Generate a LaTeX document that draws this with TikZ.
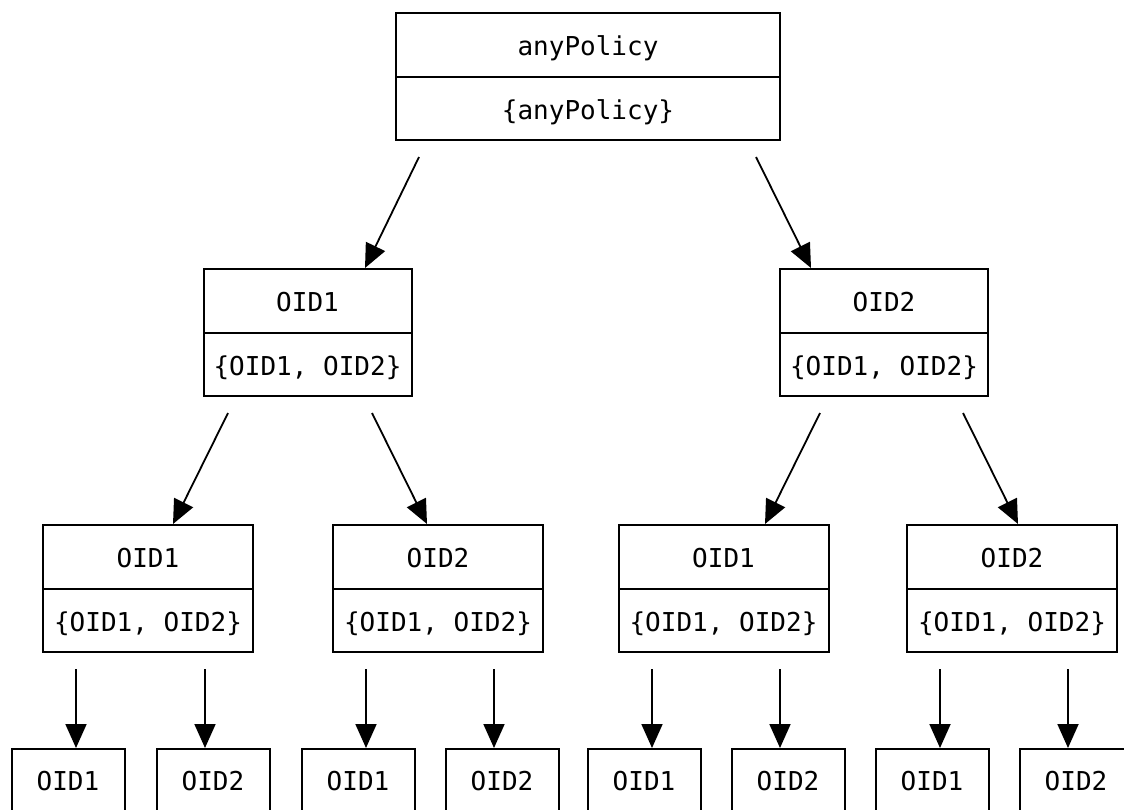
\documentclass[tikz,border=0pt]{standalone}
\usepackage{fontspec}
\setmonofont{DejaVu Sans Mono}
\usetikzlibrary{arrows.meta,shapes.multipart,calc}
\newcommand\rw[1]{\spaceskip=0pt\xspaceskip=0pt\rule[-20pt]{0pt}{61.5pt}#1}

\begin{document}
\begin{tikzpicture}[x=1pt,y=1pt,
        pol/.style={draw,line width=2pt,rectangle split,rectangle split parts=2,inner sep=0pt,align=center,anchor=north,font=\ttfamily\fontsize{26}{30}\selectfont},
        leaf/.style={draw,line width=2pt,inner sep=0pt,text width=113,align=center,anchor=north,font=\ttfamily\fontsize{26}{30}\selectfont},
        arr/.style={line width=1.8pt,-{Triangle[length=24pt,width=21pt]}}]
    \useasboundingbox (0,0) rectangle (1124,-809);
    \clip (0,0) rectangle (1124,-809);
    \node[pol,text width=384] (root) at (588,-12) {\rw{anyPolicy}\nodepart{two}\rw{\{anyPolicy\}}};
    \node[pol,text width=208] (a) at (307.5,-268) {\rw{OID1}\nodepart{two}\rw{\{OID1, OID2\}}};
    \node[pol,text width=208] (b) at (884,-268) {\rw{OID2}\nodepart{two}\rw{\{OID1, OID2\}}};
    \foreach[count=\i] \x/\t in {148/OID1,438/OID2,723.5/OID1,1012/OID2} {
        \node[pol,text width=210] (c\i) at (\x,-524) {\rw{\t}\nodepart{two}\rw{\{OID1, OID2\}}};
    }
    \foreach[count=\i] \x/\t in {68/OID1,213/OID2,358/OID1,502/OID2,644/OID1,788/OID2,932/OID1,1076/OID2} {
        \node[leaf] (d\i) at (\x,-748) {\rw{\t}};
    }
    % arrows
    \draw[arr] ([shift={(-169,-16)}]root.south) -- ([xshift=57.5]a.north);
    \draw[arr] ([shift={(168,-16)}]root.south) -- ([xshift=-73]b.north);
    \draw[arr] ([shift={(-79.5,-16)}]a.south) -- ([xshift=25]c1.north);
    \draw[arr] ([shift={(64.5,-16)}]a.south) -- ([xshift=-11]c2.north);
    \draw[arr] ([shift={(-64,-16)}]b.south) -- ([xshift=41.5]c3.north);
    \draw[arr] ([shift={(79,-16)}]b.south) -- ([xshift=6]c4.north);
    \foreach \j [evaluate=\j as \m using int(2*\j-1), evaluate=\j as \n using int(2*\j)] in {1,...,4} {
        \draw[arr] ($(c\j.south -| d\m.north)+(8,-16)$) -- ([xshift=8]d\m.north);
        \draw[arr] ($(c\j.south -| d\n.north)+(-8,-16)$) -- ([xshift=-8]d\n.north);
    }
\end{tikzpicture}
\end{document}
